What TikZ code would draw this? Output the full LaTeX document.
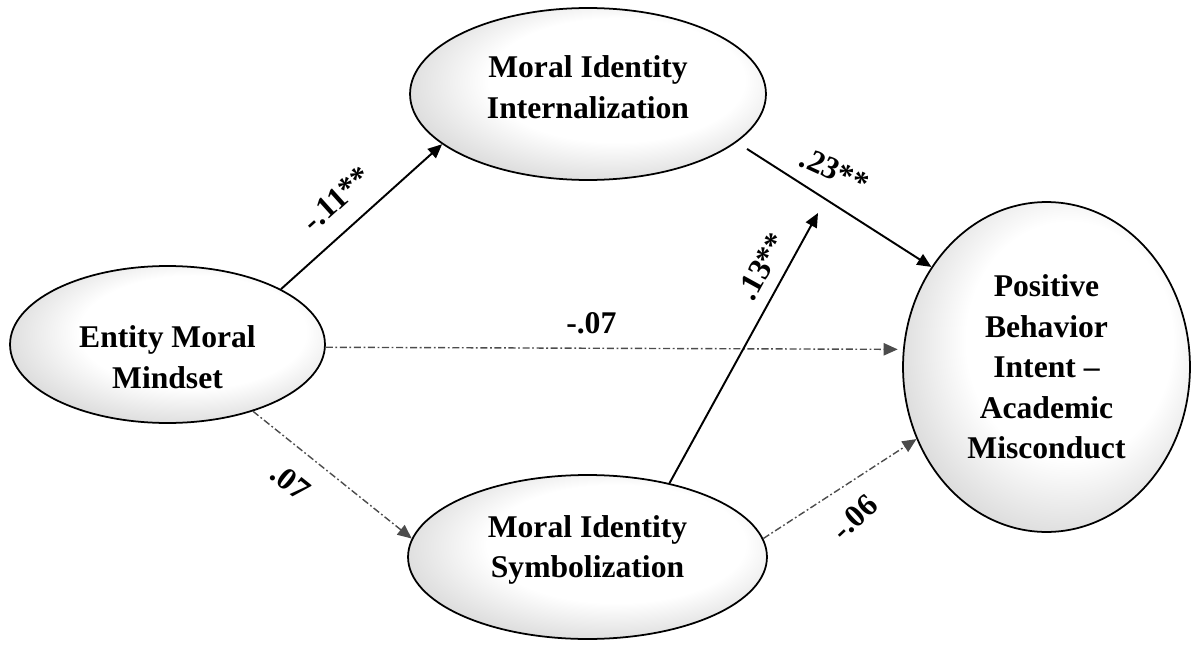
\documentclass[tikz,border=0pt]{standalone}
\usepackage{fontspec}
\setmainfont{Liberation Serif}
\usetikzlibrary{arrows.meta,shapes.geometric}

\pgfdeclareradialshading{ovalshade}{\pgfpoint{6bp}{6bp}}{color(0bp)=(white); color(18bp)=(white); color(54bp)=(black!45)}

\begin{document}
\begin{tikzpicture}[x=0.02cm,y=0.02cm,>={Triangle[length=8pt,width=7pt]},
    construct/.style={ellipse,draw,line width=1pt,shade,shading=ovalshade,inner sep=0pt,align=center,
        font=\bfseries\fontsize{18}{23}\selectfont},
    sig/.style={->,line width=1.1pt},
    nsig/.style={->,line width=0.8pt,draw=black!70,dash pattern=on 4pt off 1.5pt on 1pt off 1.5pt},
    coef/.style={sloped,inner sep=2pt,font=\bfseries\fontsize{18}{22}\selectfont}]

    \useasboundingbox (0,0) rectangle (1201,647);

    \node[construct,minimum width=6.3cm,minimum height=3.14cm] (ent) at (167.5,302.5)
        {\rule{0pt}{0.95cm}Entity Moral\\Mindset};
    \node[construct,minimum width=7.12cm,minimum height=3.44cm] (int) at (588,553)
        {Moral Identity\\Internalization\rule[-0.28cm]{0pt}{0pt}};
    \node[construct,minimum width=7.18cm,minimum height=3.28cm] (sym) at (587.5,90)
        {Moral Identity\\Symbolization\rule[-0.42cm]{0pt}{0pt}};
    \node[construct,minimum width=5.74cm,minimum height=6.6cm] (pos) at (1046.5,280)
        {Positive\\Behavior\\Intent --\\Academic\\Misconduct};

    \coordinate (mod) at (818,434);

    \path (ent.26) edge[sig] node[coef,above=8.4pt,pos=.47] {-.11**} (int.199)
          (int.342) edge[sig,shorten <=7pt] node[coef,rotate=8,above=8pt,pos=.44] {.23**} (pos.139)
          (ent.359) edge[nsig,shorten >=3pt] node[coef,above=5.6pt,pos=.46] {-.07} (pos.173)
          (ent.322) edge[nsig] node[coef,below=9.3pt,pos=.36] {.07} (sym.174)
          (sym.42) edge[sig] node[coef,above=4.7pt,pos=.76] {.13**} (mod)
          (sym.6) edge[nsig] node[coef,rotate=10,below=10pt,pos=.45] {-.06} (pos.209);
\end{tikzpicture}
\end{document}
